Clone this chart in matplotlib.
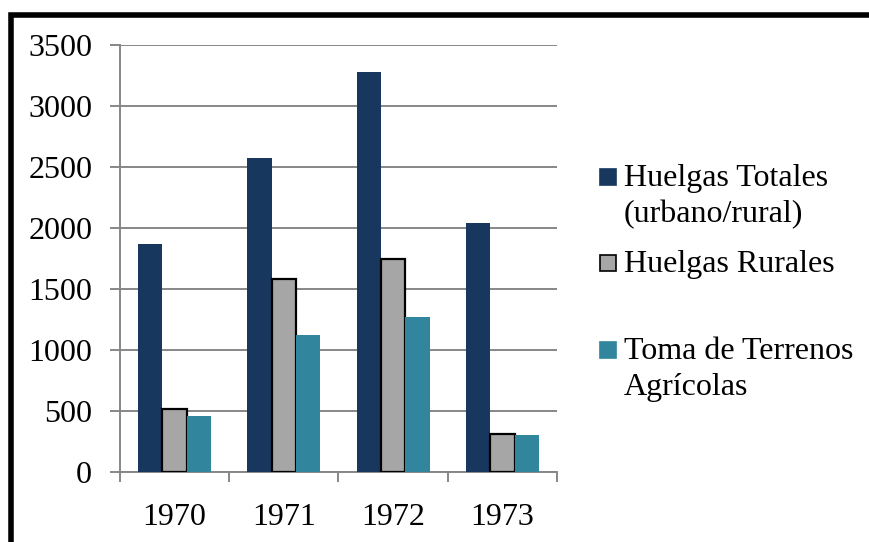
import matplotlib.pyplot as plt
import matplotlib.patches as mpatches
from matplotlib.lines import Line2D
import numpy as np

plt.rcParams['font.family'] = ['Liberation Serif', 'DejaVu Serif']

years = ['1970', '1971', '1972', '1973']
huelgas_totales = [1865, 2570, 3275, 2040]
huelgas_rurales = [520, 1580, 1750, 310]
toma_terrenos = [455, 1125, 1270, 305]

labels = ['Huelgas Totales\n(urbano/rural)', 'Huelgas Rurales', 'Toma de Terrenos\nAgrícolas']
colors = ['#17375E', '#A6A6A6', '#31859C']
edges = ['none', 'black', 'none']
yticks = [0, 500, 1000, 1500, 2000, 2500, 3000, 3500]

fig = plt.figure(figsize=(8.7, 5.42), dpi=100)
ax = fig.add_axes([120 / 870, 1 - 472 / 542, 437 / 870, 427 / 542])

x = np.arange(len(years))
w = 0.223
series = [huelgas_totales, huelgas_rurales, toma_terrenos]
for i, vals in enumerate(series):
    ax.bar(x + (i - 1) * w, vals, width=w, color=colors[i],
           edgecolor=edges[i], linewidth=1.6 if edges[i] != 'none' else 0, zorder=3)

gray = '#878787'
ax.set_ylim(0, 3500)
ax.set_xlim(-0.5, len(years) - 0.5)
ax.set_yticks(yticks)
ax.set_xticks(x)
ax.set_xticklabels(years)
ax.set_xticks(np.arange(len(years) + 1) - 0.5, minor=True)
ax.yaxis.grid(True, color=gray, linewidth=1.4, zorder=0)
ax.tick_params(axis='y', length=7, width=1.4, color=gray, pad=13, labelsize=23)
ax.tick_params(axis='x', which='major', length=0, pad=22, labelsize=23)
ax.tick_params(axis='x', which='minor', length=7, width=1.4, color=gray)
for s in ['top', 'right']:
    ax.spines[s].set_visible(False)
for s in ['left', 'bottom']:
    ax.spines[s].set_color(gray)
    ax.spines[s].set_linewidth(1.4)

# legend drawn by hand to match the uneven spacing of the original
first_baselines = [186, 272, 359]
for lab, col, ec, yb in zip(labels, colors, edges, first_baselines):
    sq = mpatches.Rectangle((600 / 870, 1 - (yb - 1) / 542), 16 / 870, 16 / 542,
                            transform=fig.transFigure, facecolor=col,
                            edgecolor='black' if ec != 'none' else col, linewidth=1.2)
    fig.patches.append(sq)
    for j, line in enumerate(lab.split('\n')):
        fig.text(624 / 870, 1 - (yb + j * 36) / 542, line, fontsize=23,
                 va='baseline', ha='left')

# thick frame at left and top
fig.add_artist(Line2D([11.5 / 870, 11.5 / 870, 1], [0, 1 - 14.5 / 542, 1 - 14.5 / 542],
                      transform=fig.transFigure, color='black', linewidth=4.0,
                      solid_joinstyle='miter'))

fig.savefig('out.png', dpi=100)
